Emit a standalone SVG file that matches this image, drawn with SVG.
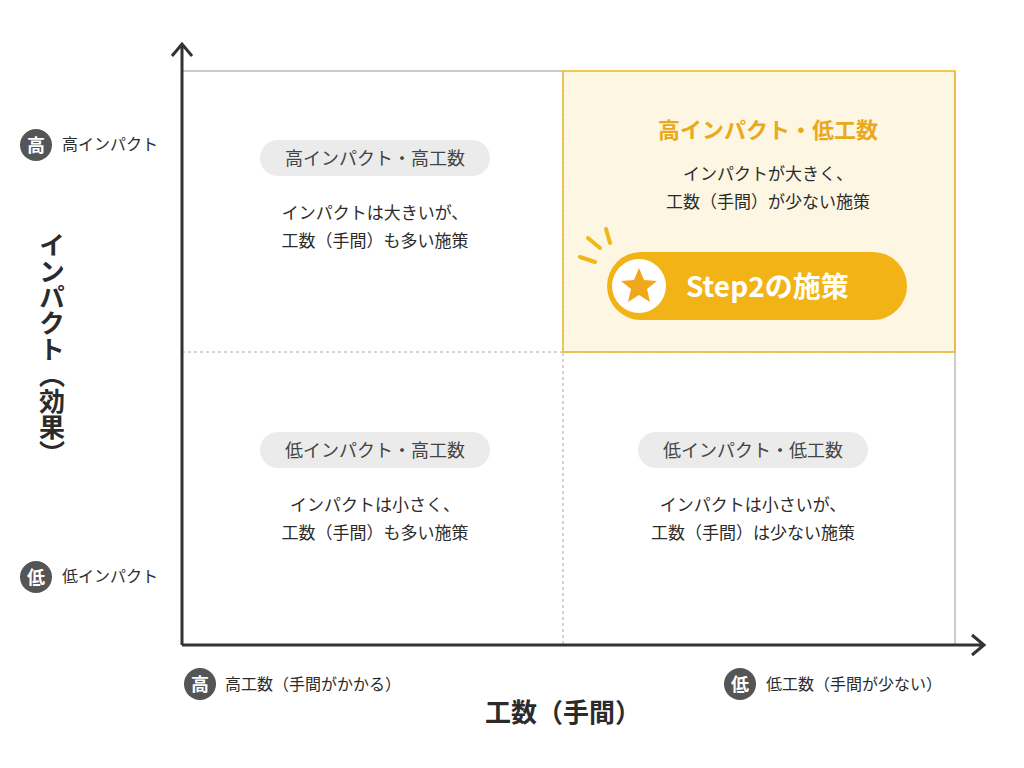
<svg xmlns="http://www.w3.org/2000/svg" width="1024" height="768" viewBox="0 0 1024 768">
<style>
text{font-family:"Noto Sans CJK JP","Noto Sans",sans-serif;fill:#2b2b2b}
.t{font-size:17px;text-anchor:middle}
.pill{fill:#ebebeb}
.pt{font-size:18px;text-anchor:middle;fill:#444}
.ax{stroke:#333;stroke-width:3;fill:none}
.dash{stroke:#aaa;stroke-width:1;stroke-dasharray:3 3}
.badge{fill:#555}
.bt{font-size:18px;fill:#fff;text-anchor:middle;font-weight:bold}
.lab{font-size:16px}
</style>
<rect width="1024" height="768" fill="#fff"/>
<g id="grid">
<rect x="563" y="71" width="392" height="281" fill="#fdf6e3"/>
<line x1="182" y1="71" x2="563" y2="71" stroke="#bbb" stroke-width="1.5"/>
<line x1="955" y1="71" x2="955" y2="645" stroke="#bbb" stroke-width="1.5"/>
<line x1="563" y1="71" x2="563" y2="645" class="dash"/>
<line x1="182" y1="352" x2="955" y2="352" class="dash"/>
<rect x="563" y="71" width="392" height="281" fill="none" stroke="#f0b81a" stroke-width="1.5"/>
<line x1="563" y1="71" x2="563" y2="352" stroke="#d8c48a" stroke-dasharray="3 3"/>
<line x1="563" y1="352" x2="955" y2="352" stroke="#d8c48a" stroke-dasharray="3 3"/>
</g>
<g id="connectors">
<path class="ax" d="M182 645 V44 M172 56 L182 44 L192 56"/>
<path class="ax" d="M182 645 H984 M972 635 L984 645 L972 655"/>
</g>
<g id="q-hh">
<rect class="pill" x="260" y="140" width="230" height="36" rx="18"/>
<text class="pt" x="375" y="165">高インパクト・高工数</text>
<text class="t" x="375" y="219">インパクトは大きいが、</text>
<text class="t" x="375" y="247">工数（手間）も多い施策</text>
</g>
<g id="q-hl">
<text x="768" y="138" font-size="22" font-weight="bold" text-anchor="middle" style="fill:#eaa91a">高インパクト・低工数</text>
<text class="t" x="768" y="180">インパクトが大きく、</text>
<text class="t" x="768" y="208">工数（手間）が少ない施策</text>
<g stroke="#f0b81a" stroke-width="4" stroke-linecap="round">
<line x1="580" y1="257" x2="595" y2="262"/>
<line x1="588" y1="238" x2="600" y2="248"/>
<line x1="606" y1="229" x2="610" y2="243"/>
</g>
<rect x="607" y="252" width="300" height="68" rx="34" fill="#f2b316"/>
<circle cx="639" cy="286" r="27" fill="#fff"/>
<polygon points="639,268 644,280 657,281 647,289 650,302 639,295 628,302 631,289 621,281 634,280" fill="#f0a81a"/>
<text x="686" y="297" font-size="28" font-weight="bold" style="fill:#fff">Step2の施策</text>
</g>
<g id="q-lh">
<rect class="pill" x="260" y="432" width="230" height="36" rx="18"/>
<text class="pt" x="375" y="457">低インパクト・高工数</text>
<text class="t" x="375" y="511">インパクトは小さく、</text>
<text class="t" x="375" y="539">工数（手間）も多い施策</text>
</g>
<g id="q-ll">
<rect class="pill" x="638" y="432" width="230" height="36" rx="18"/>
<text class="pt" x="753" y="457">低インパクト・低工数</text>
<text class="t" x="753" y="511">インパクトは小さいが、</text>
<text class="t" x="753" y="539">工数（手間）は少ない施策</text>
</g>
<g id="y-labels">
<circle class="badge" cx="36" cy="145" r="16"/><text class="bt" x="36" y="152">高</text>
<text class="lab" x="62" y="150">高インパクト</text>
<circle class="badge" cx="36" cy="577" r="16"/><text class="bt" x="36" y="584">低</text>
<text class="lab" x="62" y="582">低インパクト</text>
<text x="52" y="232" font-size="26" font-weight="bold" style="writing-mode:vertical-rl;text-orientation:upright">インパクト（効果）</text>
</g>
<g id="x-labels">
<circle class="badge" cx="200" cy="684" r="16"/><text class="bt" x="200" y="691">高</text>
<text class="lab" x="225" y="690">高工数（手間がかかる）</text>
<circle class="badge" cx="740" cy="684" r="16"/><text class="bt" x="740" y="691">低</text>
<text class="lab" x="766" y="690">低工数（手間が少ない）</text>
<text x="563" y="722" font-size="26" font-weight="bold" text-anchor="middle">工数（手間）</text>
</g>
</svg>
